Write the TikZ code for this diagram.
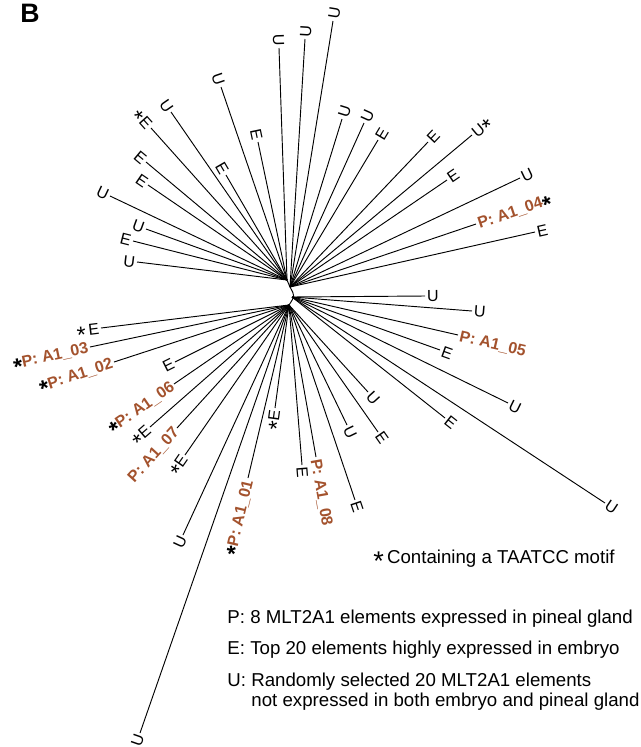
\documentclass[tikz,border=0pt]{standalone}
\usepackage{graphicx}
\usepackage{fontspec}
\setmainfont{Liberation Sans}
\definecolor{pineal}{RGB}{163,82,45}
\newcommand{\tstar}{\raisebox{-0.4em}{\color{black}\scalebox{1.45}{*}}}

\begin{document}
\begin{tikzpicture}[x=0.75pt, y=-0.75pt, line width=0.7pt]
    \tikzset{leafL/.style={pos=1, sloped, anchor=east, inner sep=1.2pt,
               font=\fontsize{12}{14}\selectfont, text height=8.6pt, text depth=0pt},
             leafR/.style={leafL, anchor=west},
             plab/.style={text=pineal, font=\fontsize{12}{14}\selectfont\bfseries},
             legend/.style={anchor=base west, inner sep=0pt, font=\fontsize{14}{16}\selectfont}}
    \useasboundingbox (0,0) rectangle (641,747);

    % Panel letter
    \node[anchor=base west, inner sep=0pt, font=\fontsize{20}{22}\selectfont\bfseries] (panel) at (20,22) {B};

    % Inner branches
    \coordinate (ul) at (287,280);
    \coordinate (ur) at (290,287);
    \coordinate (rt) at (292,297);
    \coordinate (lo) at (289,305);
    \draw (ul) -- (ur);
    \draw (ur) .. controls (295,296) .. (lo);

    % Upper left clade
    \coordinate (t01) at (137,262); \draw (ul) -- (t01) node[leafL] (l01) {U};
    \coordinate (t02) at (133,241); \draw (ul) -- (t02) node[leafL] (l02) {E};
    \coordinate (t03) at (146,229); \draw (ul) -- (t03) node[leafL] (l03) {U};
    \coordinate (t04) at (110,196); \draw (ul) -- (t04) node[leafL] (l04) {U};
    \coordinate (t05) at (148,185); \draw (ul) -- (t05) node[leafL] (l05) {E};
    \coordinate (t06) at (146,162); \draw (ul) -- (t06) node[leafL] (l06) {E};
    \coordinate (t07) at (151,128); \draw (ul) -- (t07) node[leafL] (l07) {\tstar E};
    \coordinate (t08) at (171,112); \draw (ul) -- (t08) node[leafL] (l08) {U};
    \coordinate (t09) at (226,175); \draw (ul) -- (t09) node[leafL] (l09) {E};
    \coordinate (t10) at (221,87);  \draw (ul) -- (t10) node[leafL] (l10) {U};
    \coordinate (t11) at (258,142); \draw (ul) -- (t11) node[leafL] (l11) {E};
    \coordinate (t12) at (279,48);  \draw (ul) -- (t12) node[leafL] (l12) {U};

    % Upper right clade
    \coordinate (t13) at (305,39);  \draw (ur) -- (t13) node[leafR] (l13) {U};
    \coordinate (t14) at (333,21);  \draw (ur) -- (t14) node[leafR] (l14) {U};
    \coordinate (t15) at (342,119); \draw (ur) -- (t15) node[leafR] (l15) {U};
    \coordinate (t16) at (364,123); \draw (ur) -- (t16) node[leafR] (l16) {U};
    \coordinate (t17) at (378,140); \draw (ur) -- (t17) node[leafR] (l17) {E};
    \coordinate (t18) at (428,142); \draw (ur) -- (t18) node[leafR] (l18) {E};
    \coordinate (t19) at (472,135); \draw (ur) -- (t19) node[leafR] (l19) {U\tstar};
    \coordinate (t20) at (447,180); \draw (ur) -- (t20) node[leafR] (l20) {E};
    \coordinate (t21) at (520,178); \draw (ur) -- (t21) node[leafR] (l21) {U};
    \coordinate (t22) at (476,224); \draw (ur) -- (t22) node[leafR, plab] (l22) {P: A1\_04\tstar};
    \coordinate (t23) at (535,232); \draw (ur) -- (t23) node[leafR] (l23) {E};

    % Right clade
    \coordinate (t24) at (425,296); \draw (rt) -- (t24) node[leafR] (l24) {U};
    \coordinate (t25) at (472,311); \draw (rt) -- (t25) node[leafR] (l25) {U};
    \coordinate (t26) at (458,335); \draw (rt) -- (t26) node[leafR, plab] (l26) {P: A1\_05};
    \coordinate (t27) at (440,350); \draw (rt) -- (t27) node[leafR] (l27) {E};
    \coordinate (t28) at (508,403); \draw (rt) -- (t28) node[leafR] (l28) {U};
    \coordinate (t29) at (445,418); \draw (rt) -- (t29) node[leafR] (l29) {E};
    \coordinate (t30) at (605,503); \draw (rt) -- (t30) node[leafR] (l30) {U};

    % Lower clade
    \coordinate (t31) at (368,392); \draw (lo) -- (t31) node[leafR] (l31) {U};
    \coordinate (t32) at (378,432); \draw (lo) -- (t32) node[leafR] (l32) {E};
    \coordinate (t33) at (347,425); \draw (lo) -- (t33) node[leafR] (l33) {U};
    \coordinate (t34) at (355,500); \draw (lo) -- (t34) node[leafR] (l34) {E};
    \coordinate (t35) at (316,457); \draw (lo) -- (t35) node[leafR, plab] (l35) {P: A1\_08};
    \coordinate (t36) at (302,465); \draw (lo) -- (t36) node[leafR] (l36) {E};
    \coordinate (t37) at (275,408); \draw (lo) -- (t37) node[leafL] (l37) {\tstar E};
    \coordinate (t38) at (248,478); \draw (lo) -- (t38) node[leafL, plab] (l38) {\tstar P: A1\_01};
    \coordinate (t39) at (183,535); \draw (lo) -- (t39) node[leafL] (l39) {U};
    \coordinate (t40) at (140,733); \draw (lo) -- (t40) node[leafL] (l40) {U};
    \coordinate (t41) at (185,455); \draw (lo) -- (t41) node[leafL] (l41) {\tstar E};
    \coordinate (t42) at (177,428); \draw (lo) -- (t42) node[leafL, plab] (l42) {P: A1\_07};
    \coordinate (t43) at (150,427); \draw (lo) -- (t43) node[leafL] (l43) {\tstar E};
    \coordinate (t44) at (174,384); \draw (lo) -- (t44) node[leafL, plab] (l44) {\tstar P: A1\_06};
    \coordinate (t45) at (175,362); \draw (lo) -- (t45) node[leafL] (l45) {E};
    \coordinate (t46) at (114,362); \draw (lo) -- (t46) node[leafL, plab] (l46) {\tstar P: A1\_02};
    \coordinate (t47) at (90,347);  \draw (lo) -- (t47) node[leafL, plab] (l47) {\tstar P: A1\_03};
    \coordinate (t48) at (101,328); \draw (lo) -- (t48) node[leafL] (l48) {\tstar\,E};

    % Legend
    \node[legend] (motif) at (373,563) {\tstar\,Containing a TAATCC motif};
    \node[legend] (pkey) at (227,623) {P: 8 MLT2A1 elements expressed in pineal gland};
    \node[legend] (ekey) at (227,654) {E: Top 20 elements highly expressed in embryo};
    \node[legend] (ukey) at (227,686.5) {U: Randomly selected 20 MLT2A1 elements};
    \node[legend] (ukey2) at (251,706.5) {not expressed in both embryo and pineal gland};
  \end{tikzpicture}
\end{document}
